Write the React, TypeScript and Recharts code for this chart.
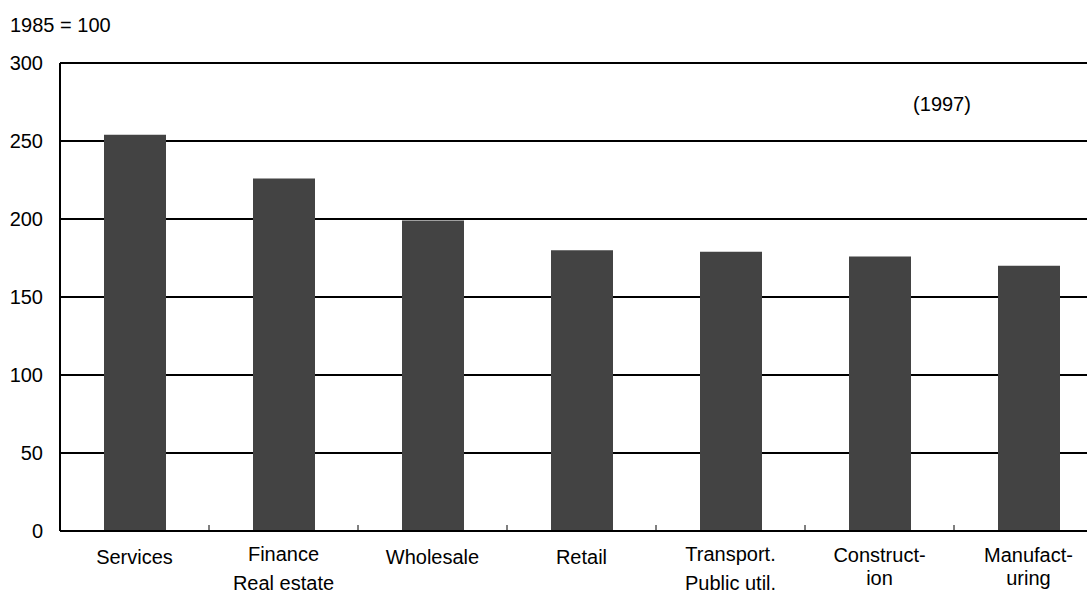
import { BarChart, Bar, XAxis, YAxis, CartesianGrid } from "recharts";

const categories = ["Services", "Finance\nReal estate", "Wholesale", "Retail", "Transport.\nPublic util.", "Construct-\nion", "Manufact-\nuring"];
const values = [254, 226, 199, 180, 179, 176, 170];
const yTicks = [0, 50, 100, 150, 200, 250, 300];

const data = categories.map((name, i) => ({ name, value: values[i] }));

const CHART_W = 1120;
const CHART_H = 591;
const MARGIN = { top: 63, right: 17, bottom: 0, left: 0 };
const Y_W = 60;
const FONT = "'Liberation Sans', Arial, sans-serif";
const FS = 20;

function CategoryTick(props: any) {
  const { x, y, payload, index } = props;
  const band = (CHART_W - MARGIN.left - MARGIN.right - Y_W) / categories.length;
  const lines = String(payload.value).split("\n");
  const hyphen = lines[0].endsWith("-");
  const gap = hyphen ? 23 : 29;
  const firstY = lines.length > 1 ? (hyphen ? 24 : 23) : 26;
  return (
    <g>
      {index > 0 && (
        <line x1={x - band / 2} x2={x - band / 2} y1={y} y2={y - 6} stroke="#000" strokeWidth={1} />
      )}
      {lines.map((l, i) => (
        <text
          key={i}
          x={x}
          y={y + firstY + i * gap}
          textAnchor="middle"
          dominantBaseline="central"
          fill="#000"
          style={{ fontSize: FS, fontFamily: FONT }}
        >
          {l}
        </text>
      ))}
    </g>
  );
}

export default function App() {
  return (
    <div style={{ position: "absolute", left: 0, top: 0, width: 1087, height: 591, overflow: "hidden", background: "#fff", fontFamily: FONT }}>
      <div style={{ position: "absolute", left: 10, top: 13, fontSize: FS, lineHeight: "24px", color: "#000" }}>1985 = 100</div>
      <div style={{ position: "absolute", left: 942, top: 92, fontSize: FS, lineHeight: "24px", color: "#000", transform: "translateX(-50%)" }}>(1997)</div>
      <BarChart width={CHART_W} height={CHART_H} data={data} margin={MARGIN} barSize={62}>
        <CartesianGrid horizontal vertical={false} stroke="#000" strokeWidth={2} />
        <XAxis
          dataKey="name"
          height={60}
          interval={0}
          tickLine={false}
          tickSize={0}
          tickMargin={0}
          axisLine={{ stroke: "#000", strokeWidth: 2 }}
          tick={<CategoryTick />}
        />
        <YAxis
          width={Y_W}
          domain={[0, 300]}
          ticks={yTicks}
          tickLine={false}
          tickSize={0}
          tickMargin={17}
          axisLine={{ stroke: "#000", strokeWidth: 2 }}
          tick={{ fill: "#000", fontSize: FS, fontFamily: FONT }}
        />
        <Bar dataKey="value" fill="#434343" isAnimationActive={false} />
      </BarChart>
    </div>
  );
}
